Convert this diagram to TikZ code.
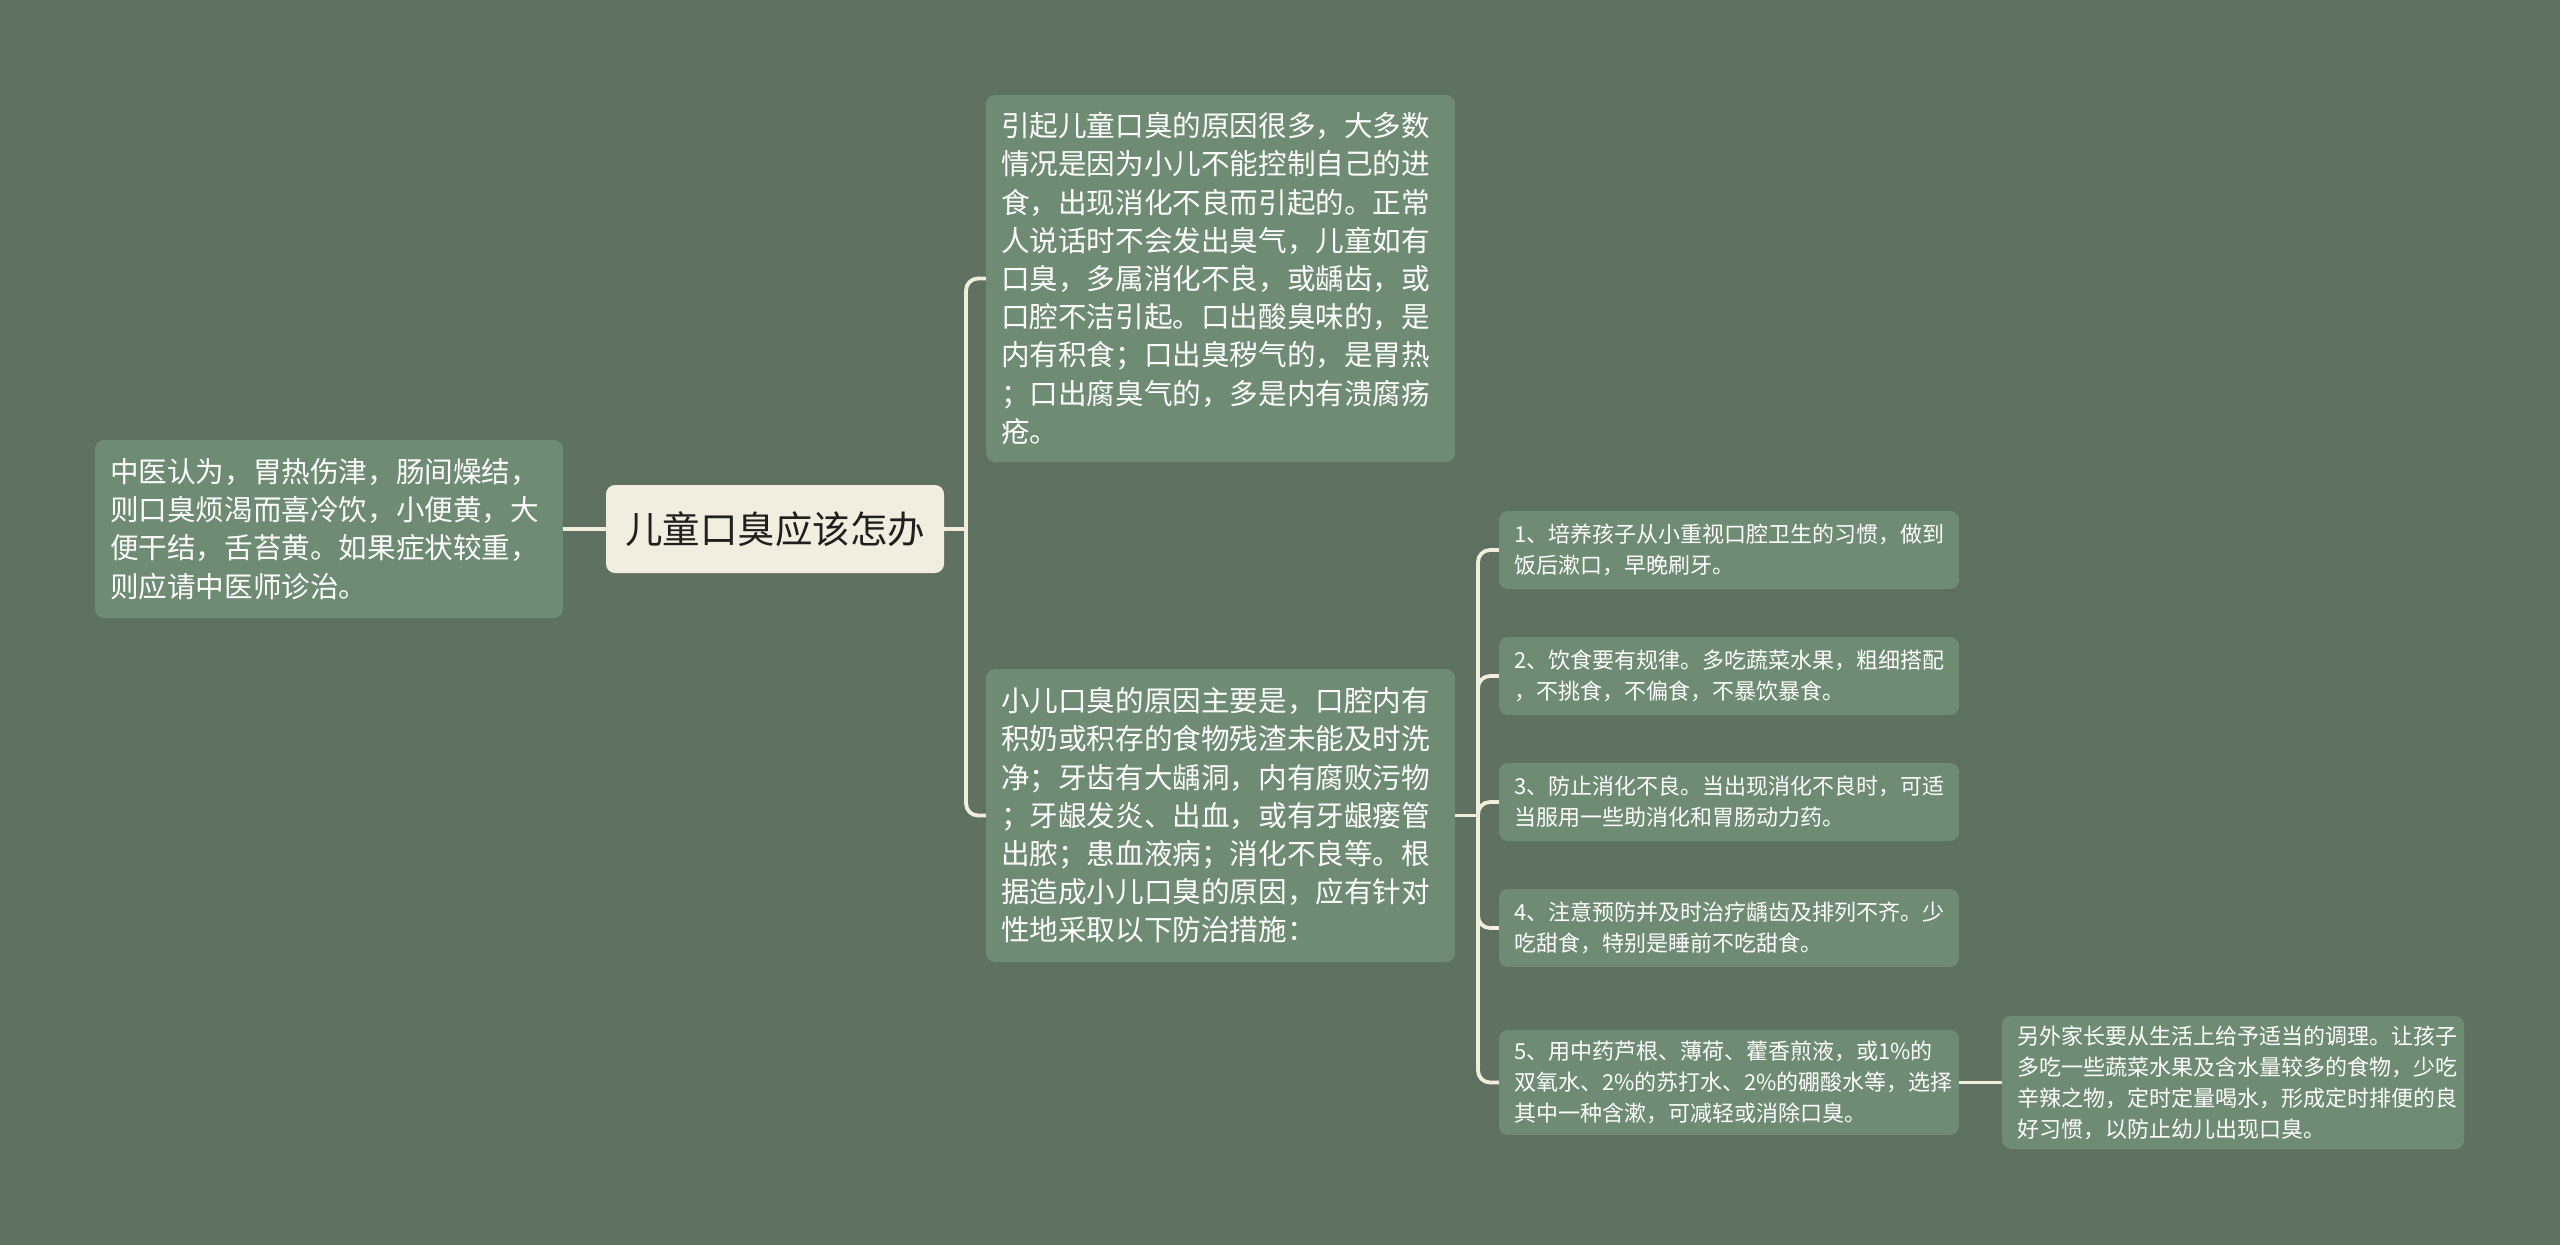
\documentclass[tikz,border=0pt]{standalone}
\usepackage{fontspec}
\setmainfont{Noto Sans CJK SC}
\definecolor{bg}{HTML}{5F7161}
\definecolor{nodefill}{HTML}{6E8B73}
\definecolor{rootfill}{HTML}{F1EDDF}
\definecolor{linec}{HTML}{F2EEDC}
\begin{document}
\begin{tikzpicture}[x=1pt,y=-1pt,
  box/.style={rectangle, rounded corners=9pt, fill=nodefill, text=white, align=left, inner xsep=15pt, inner ysep=0pt, anchor=center},
  bigtxt/.style={font=\fontsize{28.6pt}{38.2pt}\selectfont},
  smalltxt/.style={font=\fontsize{22pt}{31pt}\selectfont},
  conn/.style={draw=linec, line width=3.8pt, rounded corners=12pt}]
\useasboundingbox[fill=bg] (0,0) rectangle (2560,1245);

\node[rectangle, rounded corners=9pt, fill=rootfill, text=black!88, inner sep=0pt, minimum width=338pt, minimum height=88pt, font=\fontsize{37.5pt}{44pt}\selectfont] (root) at (775,529) {儿童口臭应该怎办};

\node[box, bigtxt, text width=438pt, minimum width=468pt, minimum height=178pt] (L) at (329,529) {中医认为，胃热伤津，肠间燥结，\\则口臭烦渴而喜冷饮，小便黄，大\\便干结，舌苔黄。如果症状较重，\\则应请中医师诊治。};

\node[box, bigtxt, text width=439pt, minimum width=469pt, minimum height=367pt] (A) at (1220.5,278.5) {引起儿童口臭的原因很多，大多数\\情况是因为小儿不能控制自己的进\\食，出现消化不良而引起的。正常\\人说话时不会发出臭气，儿童如有\\口臭，多属消化不良，或龋齿，或\\口腔不洁引起。口出酸臭味的，是\\内有积食；口出臭秽气的，是胃热\\；口出腐臭气的，多是内有溃腐疡\\疮。};

\node[box, bigtxt, text width=439pt, minimum width=469pt, minimum height=293pt] (B) at (1220.5,815.5) {小儿口臭的原因主要是，口腔内有\\积奶或积存的食物残渣未能及时洗\\净；牙齿有大龋洞，内有腐败污物\\；牙龈发炎、出血，或有牙龈瘘管\\出脓；患血液病；消化不良等。根\\据造成小儿口臭的原因，应有针对\\性地采取以下防治措施：};

\node[box, smalltxt, text width=430pt, minimum width=460pt, minimum height=78pt] (i1) at (1729,550) {1、培养孩子从小重视口腔卫生的习惯，做到\\饭后漱口，早晚刷牙。};
\node[box, smalltxt, text width=430pt, minimum width=460pt, minimum height=78pt] (i2) at (1729,676) {2、饮食要有规律。多吃蔬菜水果，粗细搭配\\，不挑食，不偏食，不暴饮暴食。};
\node[box, smalltxt, text width=430pt, minimum width=460pt, minimum height=78pt] (i3) at (1729,802) {3、防止消化不良。当出现消化不良时，可适\\当服用一些助消化和胃肠动力药。};
\node[box, smalltxt, text width=430pt, minimum width=460pt, minimum height=78pt] (i4) at (1729,928) {4、注意预防并及时治疗龋齿及排列不齐。少\\吃甜食，特别是睡前不吃甜食。};
\node[box, smalltxt, text width=430pt, minimum width=460pt, minimum height=105pt] (i5) at (1729,1082.5) {5、用中药芦根、薄荷、藿香煎液，或1\%的\\双氧水、2\%的苏打水、2\%的硼酸水等，选择\\其中一种含漱，可减轻或消除口臭。};
\node[box, smalltxt, text width=432pt, minimum width=462pt, minimum height=133pt] (i6) at (2233,1082.5) {另外家长要从生活上给予适当的调理。让孩子\\多吃一些蔬菜水果及含水量较多的食物，少吃\\辛辣之物，定时定量喝水，形成定时排便的良\\好习惯，以防止幼儿出现口臭。};

\coordinate (j1) at (966,529);
\coordinate (j2) at (1478,815.5);

\draw[conn] (root.west) -- (L.east);
\draw[conn] (root.east) -- (j1);
\draw[conn] (A.west) -| (j1);
\draw[conn] (B.west) -| (j1);
\draw[conn] (B.east) -- (j2);
\foreach \n in {i1,i2,i3,i4,i5} {\draw[conn] (\n.west) -| (j2);}
\draw[conn] (i5.east) -- (i6.west);
\end{tikzpicture}
\end{document}
